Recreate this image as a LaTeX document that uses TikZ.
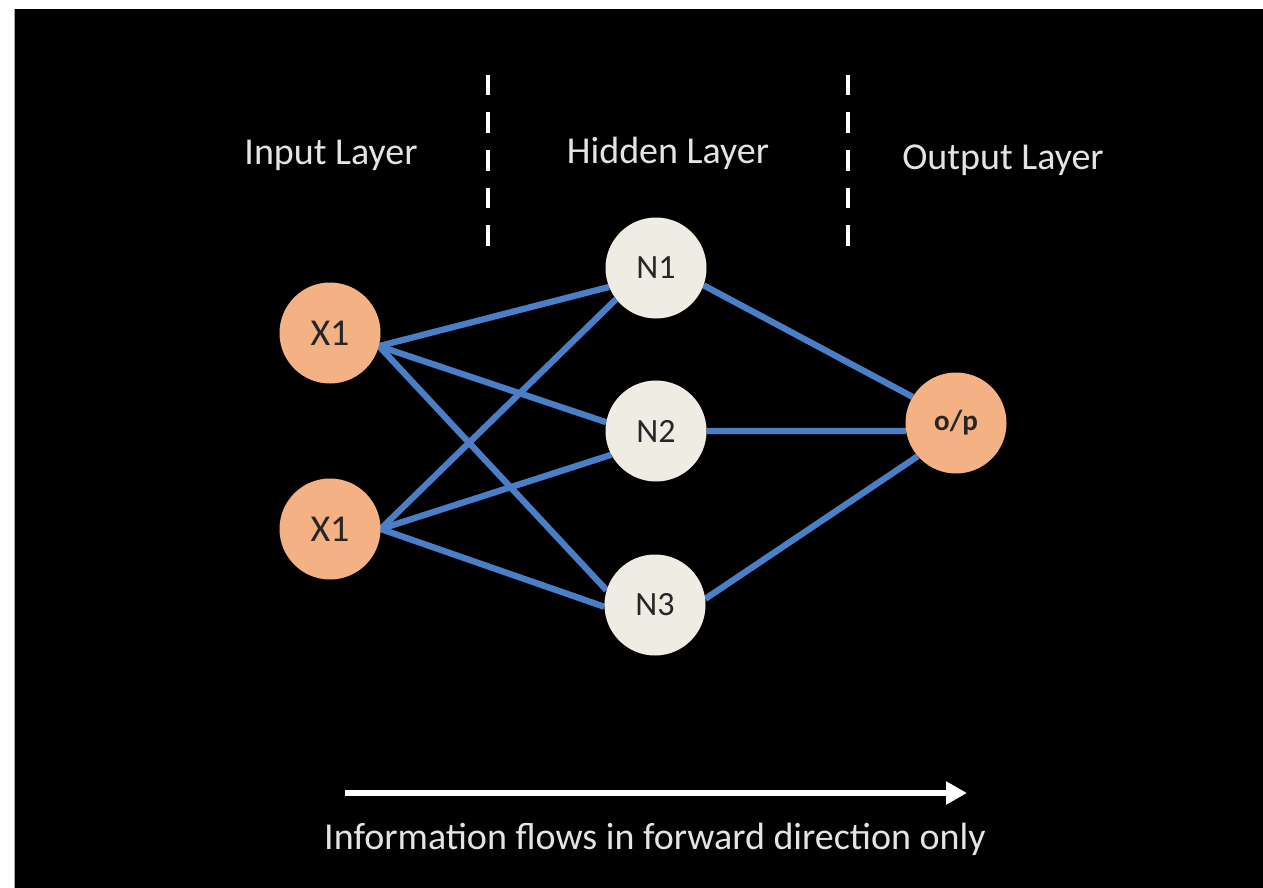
\documentclass[tikz,border=0pt]{standalone}
\usepackage{fontspec}
\setmainfont{Carlito}
\usetikzlibrary{arrows.meta}
\definecolor{edgeblue}{HTML}{4A7EC6}
\definecolor{inpeach}{HTML}{F4B183}
\definecolor{hidgray}{HTML}{EEECE3}
\definecolor{labelgray}{HTML}{E4E4E4}
\definecolor{nodetext}{HTML}{262626}
\pgfdeclarelayer{bg}
\pgfdeclarelayer{edges}
\pgfsetlayers{bg,edges,main}
\begin{document}
\begin{tikzpicture}[x=1pt,y=-1pt,
  neuron/.style={circle,minimum size=101pt,inner sep=0pt,text=nodetext,
    font=\fontsize{34}{36}\selectfont},
  innode/.style={neuron,fill=inpeach,font=\fontsize{38}{40}\selectfont},
  hidnode/.style={neuron,fill=hidgray},
  outnode/.style={neuron,fill=inpeach,font=\fontsize{29}{31}\selectfont\bfseries},
  link/.style={draw=edgeblue,line width=6.3pt},
  divider/.style={draw=white,line width=4.5pt,dash pattern=on 20.5pt off 17pt},
  layerlabel/.style={text=labelgray,font=\fontsize{38}{40}\selectfont,inner sep=0pt}]
\useasboundingbox (0,0) rectangle (1263,888);
\begin{pgfonlayer}{bg}
  \fill[white] (0,0) rectangle (1263,888);
  \fill[black] (14,9) rectangle (1263,888);
  \draw[gray!70,line width=1pt] (14.5,9) -- (14.5,888);
\end{pgfonlayer}

% layer titles
\node[layerlabel] (tin)  at (331,155) {Input Layer};
\node[layerlabel] (thid) at (668,153) {Hidden Layer};
\node[layerlabel] (tout) at (1003,160) {Output Layer};

% dashed separators between the layers
\coordinate (d1a) at (488,75);  \coordinate (d1b) at (488,246);
\coordinate (d2a) at (848,75);  \coordinate (d2b) at (848,246);
\draw[divider] (d1a) -- (d1b);
\draw[divider] (d2a) -- (d2b);

% neurons
\node[innode]  (x1) at (330,333) {X1};
\node[innode]  (x2) at (330,529) {X1};
\node[hidnode] (n1) at (656,268) {N1};
\node[hidnode] (n2) at (656,431) {N2};
\node[hidnode] (n3) at (655,605) {N3};
\node[outnode] (op) at (956,423) {o/p};

% weighted connections
\begin{pgfonlayer}{edges}
  \draw[link] (x1.345) -- (n1.202);
  \draw[link] (x1.345) -- (n2.170);
  \draw[link] (x1.345) -- (n3.163);
  \draw[link] (x2.0) -- (n1.218);
  \draw[link] (x2.0) -- (n2.208);
  \draw[link] (x2.0) -- (n3.182);
  \draw[link] (n1.340) -- (op.149);
  \draw[link] (n2.0) -- (op.189);
  \draw[link] (n3.7) -- (op.221);
\end{pgfonlayer}

% direction of information flow
\coordinate (fa) at (345,793);
\coordinate (fb) at (967,793);
\draw[white,line width=5.5pt,-{Triangle[length=21pt,width=22pt]}] (fa) -- (fb);
\node[layerlabel] (flow) at (655,839) {Information flows in forward direction only};
\end{tikzpicture}
\end{document}
